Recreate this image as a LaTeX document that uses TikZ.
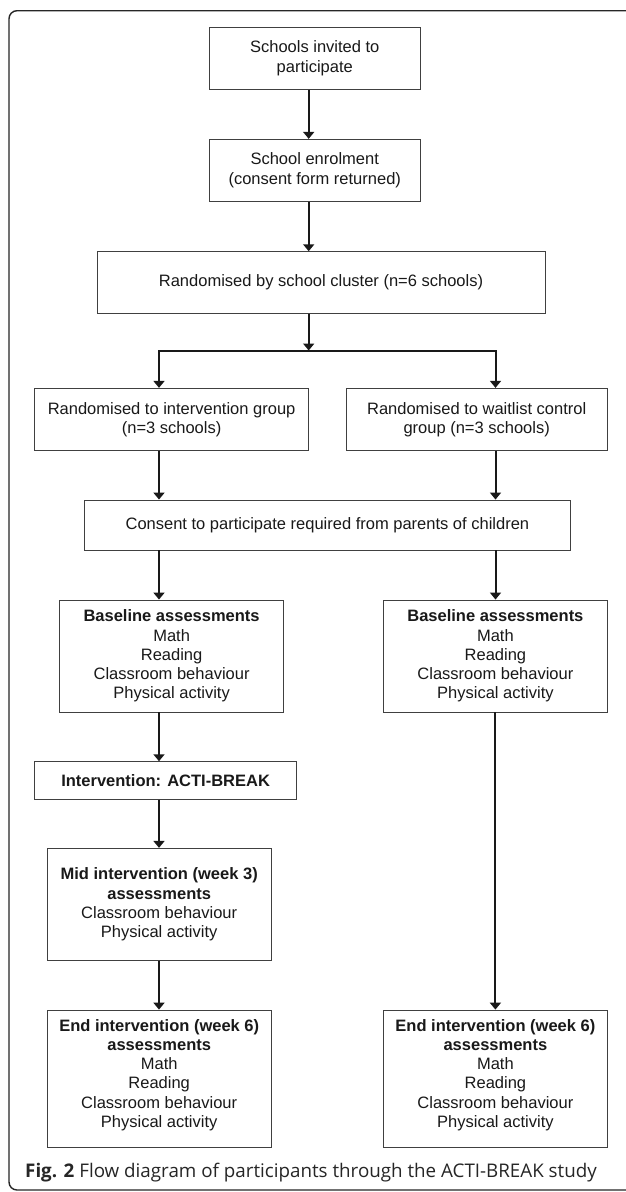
\documentclass[tikz,border=0pt]{standalone}
\usepackage{graphicx}
\usepackage{fontspec}
\setmainfont{Liberation Sans}
\newfontfamily\capfont{Open Sans}
\usetikzlibrary{arrows.meta}
\begin{document}
\begin{tikzpicture}[x=1pt,y=-1pt,
  box/.style={draw=black!75, line width=0.9pt, align=center, inner sep=0pt,
    font=\fontsize{16.5}{19.2}\selectfont, text=black!90},
  arr/.style={line width=2pt, black!90, -{Triangle[width=11pt,length=7pt]}},
  ln/.style={line width=2pt, black!90}]
\useasboundingbox (0,0) rectangle (625,1192);
\fill[white] (0,0) rectangle (625,1192);
\draw[line width=1.4pt, black!85, rounded corners=8pt] (9,10.7) rectangle (660,1190);

\coordinate (xa) at (308.7,0);
\coordinate (xl) at (159,0);
\coordinate (xr) at (495.5,0);

\node[box, minimum width=211.5pt, minimum height=62pt] (b1) at (314.75,58.3) {Schools invited to\\participate};
\node[box, minimum width=211.5pt, minimum height=62pt] (b2) at (314.75,170.3) {School enrolment\\(consent form returned)};
\node[box, minimum width=448pt, minimum height=61.6pt] (b3) at (321,282.5) {Randomised by school cluster (n=6 schools)};
\node[box, minimum width=273.8pt, minimum height=62.4pt] (b4) at (171.6,419.5) {Randomised to intervention group\\(n=3 schools)};
\node[box, minimum width=261.4pt, minimum height=62.4pt] (b5) at (476.7,419.5) {Randomised to waitlist control\\group (n=3 schools)};
\node[box, minimum width=485.8pt, minimum height=50pt] (b6) at (327.4,525) {Consent to participate required from parents of children};
\node[box, minimum width=224.4pt, minimum height=112pt] (bl) at (171.6,656) {\textbf{Baseline assessments}\\Math\\Reading\\Classroom behaviour\\Physical activity};
\node[box, minimum width=224pt, minimum height=112pt] (br) at (495.4,656) {\textbf{Baseline assessments}\\Math\\Reading\\Classroom behaviour\\Physical activity};
\node[box, minimum width=261.8pt, minimum height=37.6pt] (iv) at (165.6,780.5) {\textbf{Intervention: ACTI-BREAK}};
\node[box, minimum width=224.4pt, minimum height=112.4pt] (mid) at (159.2,904.5) {\textbf{Mid intervention (week 3)}\\\textbf{assessments}\\Classroom behaviour\\Physical activity};
\node[box, minimum width=224.4pt, minimum height=137.3pt] (el) at (159.2,1078.7) {\textbf{End intervention (week 6)}\\\textbf{assessments}\\Math\\Reading\\Classroom behaviour\\Physical activity\\[-8.6pt]\mbox{}};
\node[box, minimum width=224pt, minimum height=137.3pt] (er) at (495.4,1078.7) {\textbf{End intervention (week 6)}\\\textbf{assessments}\\Math\\Reading\\Classroom behaviour\\Physical activity\\[-8.6pt]\mbox{}};

\coordinate (j) at (308.7,350.5);
\coordinate (jl) at (159,350.5);
\coordinate (jr) at (495.5,350.5);

\draw[arr] (b1.south -| xa) -- (b2.north -| xa);
\draw[arr] (b2.south -| xa) -- (b3.north -| xa);
\draw[arr] (b3.south -| xa) -- (j);
\draw[arr] (jr) -- (jl) -- (b4.north -| jl);
\draw[arr] (jl) -- (jr) -- (b5.north -| jr);
\draw[arr] (b4.south -| xl) -- (b6.north -| xl);
\draw[arr] (b5.south -| xr) -- (b6.north -| xr);
\draw[arr] (b6.south -| xl) -- (bl.north -| xl);
\draw[arr] (b6.south -| xr) -- (br.north -| xr);
\draw[arr] (bl.south -| xl) -- (iv.north -| xl);
\draw[arr] (iv.south -| xl) -- (mid.north -| xl);
\draw[arr] (mid.south -| xl) -- (el.north -| xl);
\draw[arr] (br.south) -- (er.north);

\node[anchor=base west, inner sep=0pt, font=\capfont, text=black!85] (cap) at (25,1177.7)
  {\resizebox{571.6pt}{!}{\textbf{Fig. 2} Flow diagram of participants through the ACTI-BREAK study}};
\end{tikzpicture}
\end{document}
